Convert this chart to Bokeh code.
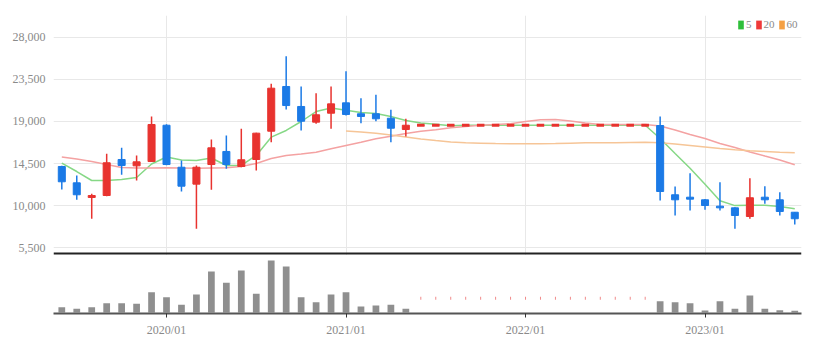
import math
from bokeh.plotting import figure
from bokeh.layouts import column
from bokeh.models import (ColumnDataSource, Range1d, FixedTicker, Span, Legend,
                          LegendItem, Grid, NumeralTickFormatter)
from bokeh.embed import file_html
from bokeh.resources import INLINE

# ---------------- data (monthly candles, 2019/06 .. 2023/07) ----------------
months = [f"{2019 + (5 + k) // 12}/{(5 + k) % 12 + 1:02d}" for k in range(50)]

halt = [18600] * 16  # trading halt 2021/06 .. 2022/09 (flat candles)

open_ = [14180, 12430, 10860, 11070, 14930, 14250, 14710, 18600, 14100, 12290,
         14390, 15790, 14180, 14930, 17960, 22750, 20610, 18930, 19890, 21000,
         19830, 19830, 19350, 18140] + halt + \
        [18570, 11150, 10890, 10610, 9930, 9750, 8820, 10890, 10610, 9280]
high = [14250, 13210, 11250, 15540, 16180, 15360, 19540, 18700, 14820, 14280,
        17070, 17500, 18220, 17800, 23040, 26000, 22750, 22030, 22750, 24390,
        21500, 21860, 20250, 19290] + halt + \
       [19540, 12040, 13460, 10700, 12500, 9800, 12930, 12070, 11430, 9300]
low = [11710, 10610, 8580, 11000, 13290, 12680, 14700, 14300, 11500, 7500,
       11680, 13930, 14100, 13750, 16780, 20290, 18040, 18750, 18220, 19640,
       18820, 19030, 16780, 17390] + halt + \
      [10540, 8930, 9460, 9540, 9460, 7500, 8580, 10180, 8930, 7960]
close = [12540, 11150, 11070, 14580, 14290, 14680, 18680, 14390, 12070, 14100,
         16180, 14390, 14900, 17750, 22570, 20710, 19030, 19720, 20890, 19750,
         19540, 19290, 18280, 18600] + halt + \
        [11500, 10610, 10680, 10000, 9750, 8930, 10830, 10610, 9360, 8580]

ma5 = [14550, 13640, 12680, 12680, 12790, 13000, 14450, 15200, 14880, 14820,
       15090, 14290, 14290, 15360, 17320, 18040, 19000, 20070, 20450, 20210,
       19960, 19860, 19540, 19110, 18840, 18700, 18540] + [18600] * 13 + \
      [17180, 15580, 14000, 12280, 10510, 9990, 10040, 10020, 9890, 9660]
ma20 = [15200, 14980, 14710, 14390, 14070, 14020, 14020, 14040, 14020, 14000,
        14020, 14040, 14180, 14500, 15040, 15360, 15520, 15710, 16080, 16430,
        16780, 17150, 17430, 17710, 17960, 18110, 18330, 18460, 18600, 18680,
        18750, 19000, 19180, 19210, 19050, 18840, 18680, 18680, 18680, 18680,
        18520, 18090, 17610, 17180, 16640, 16210, 15730, 15300, 14880, 14360]
ma60 = [float("nan")] * 19 + \
       [17980, 17880, 17750, 17550, 17340, 17130, 16960, 16800, 16720, 16680,
        16640, 16610, 16610, 16610, 16640, 16680, 16720, 16720, 16720, 16750,
        16780, 16720, 16590, 16430, 16270, 16110, 15970, 15860, 15790, 15710,
        15650]

volume = [530000, 370000, 530000, 930000, 930000, 870000, 2030000, 1530000,
          770000, 1800000, 4100000, 2970000, 4200000, 1870000, 5200000,
          4600000, 1530000, 1030000, 1800000, 2030000, 600000, 700000, 770000,
          370000] + [0] * 16 + \
         [1130000, 1030000, 930000, 200000, 1130000, 370000, 1700000, 370000,
          230000, 170000]

price_ticks = [5500, 10000, 14500, 19000, 23500, 28000]
tick_labels = ["2020/01", "2021/01", "2022/01", "2023/01"]
legend_labels = ["5", "20", "60"]

# ---------------- styling ----------------
UP = "#e8332f"
DOWN = "#1b7ae6"
MA_COLORS = ["#86d886", "#f4a2a2", "#f6c597"]
LEG_COLORS = ["#2fbf3a", "#ef3a3a", "#f5a043"]
FONT = "Liberation Sans Narrow"
TXT = "#8a8a8a"

xs = list(range(len(months)))
tick_idx = [months.index(t) for t in tick_labels]
colors = [UP if c >= o else DOWN for o, c in zip(open_, close)]

src = ColumnDataSource(dict(
    x=xs, open=open_, high=high, low=low, close=close,
    top=[max(o, c) for o, c in zip(open_, close)],
    bottom=[min(o, c) for o, c in zip(open_, close)],
    color=colors, ma5=ma5, ma20=ma20, ma60=ma60, vol=volume))
flat_idx = [i for i in xs if open_[i] == close[i]]
flat_src = ColumnDataSource(dict(x=[xs[i] for i in flat_idx],
                                 y=[close[i] for i in flat_idx],
                                 color=[colors[i] for i in flat_idx]))
zero_idx = [i for i in xs if volume[i] == 0]

x_range = Range1d(-0.555, len(months) - 1 + 0.45)

# ---------------- price pane ----------------
# frame spans canvas y 15..255 ; 107.14 price units per pixel
p1 = figure(frame_width=748, frame_height=240, min_border_left=53,
            min_border_right=22, min_border_top=15, min_border_bottom=0,
            x_range=x_range, y_range=Range1d(4643, 30357),
            x_axis_location=None, toolbar_location=None,
            output_backend="svg", outline_line_color=None)
p1.center = [g for g in p1.center if not (isinstance(g, Grid) and g.dimension == 0)]
p1.add_layout(Grid(dimension=0, ticker=FixedTicker(ticks=tick_idx),
                   grid_line_color="#e8e8e8"))
p1.ygrid.ticker = FixedTicker(ticks=price_ticks)
p1.ygrid.grid_line_color = "#e8e8e8"
p1.yaxis.ticker = FixedTicker(ticks=price_ticks)
p1.yaxis.formatter = NumeralTickFormatter(format="0,0")
p1.yaxis.axis_line_color = None
p1.yaxis.major_tick_line_color = None
p1.yaxis.minor_tick_line_color = None
p1.yaxis.major_label_standoff = 2
p1.yaxis.major_label_text_color = TXT
p1.yaxis.major_label_text_font = FONT
p1.yaxis.major_label_text_font_size = "12px"

for col, c in zip(["ma5", "ma20", "ma60"], MA_COLORS):
    p1.line("x", col, source=src, line_color=c, line_width=1.5)

p1.segment(x0="x", y0="low", x1="x", y1="high", source=src,
           line_color="color", line_width=1.5)
p1.vbar(x="x", width=0.47, top="top", bottom="bottom", source=src,
        fill_color="color", line_color="color", line_width=1)
p1.rect(x="x", y="y", width=0.5, height=3, height_units="screen",
        source=flat_src, fill_color="color", line_color=None)

p1.add_layout(Span(location=4857, dimension="width", line_color="#222222",
                   line_width=2))

# legend swatches: renderers with a single NaN row (never drawn on the plot)
nan = float("nan")
leg_items = []
for lab, c in zip(legend_labels, LEG_COLORS):
    r = p1.quad(left=[nan], right=[nan], top=[nan], bottom=[nan],
                fill_color=c, line_color=None)
    leg_items.append(LegendItem(label=lab, renderers=[r]))
legend = Legend(items=leg_items, orientation="horizontal", location=(684, 225),
                glyph_width=7, glyph_height=11, label_standoff=2, spacing=3,
                padding=0, margin=0, label_height=10, label_width=0,
                label_text_font=FONT, label_text_font_size="11px",
                label_text_color=TXT, border_line_color=None,
                background_fill_alpha=0)
p1.add_layout(legend, "center")

# ---------------- volume pane ----------------
p2 = figure(frame_width=748, frame_height=56, min_border_left=53,
            min_border_right=22, min_border_top=2, min_border_bottom=0,
            x_range=x_range, y_range=Range1d(-100000, 5500000),
            y_axis_location=None, toolbar_location=None,
            output_backend="svg", outline_line_color=None)
p2.grid.grid_line_color = None
p2.vbar(x="x", top="vol", width=0.45, source=src, fill_color="#8f8f8f",
        line_color=None)
p2.rect(x=[xs[i] for i in zero_idx], y=[1430000] * len(zero_idx), width=1,
        height=3, width_units="screen", height_units="screen",
        fill_color="#f08a8a", line_color=None)
p2.xaxis.ticker = FixedTicker(ticks=tick_idx)
p2.xaxis.major_label_overrides = {i: t for i, t in zip(tick_idx, tick_labels)}
p2.xaxis.axis_line_color = "#555555"
p2.xaxis.axis_line_width = 2
p2.xaxis.major_tick_line_color = "#333333"
p2.xaxis.major_tick_out = 4
p2.xaxis.major_tick_in = 0
p2.xaxis.minor_tick_line_color = None
p2.xaxis.major_label_standoff = 5
p2.xaxis.major_label_text_color = TXT
p2.xaxis.major_label_text_font = FONT
p2.xaxis.major_label_text_font_size = "12px"

layout = column(p1, p2, spacing=0)
open("out.html", "w").write(file_html(layout, INLINE))
